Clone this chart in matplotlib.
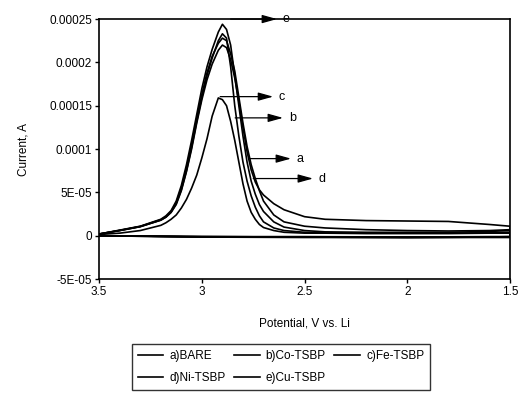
import matplotlib
matplotlib.use("Agg")
import matplotlib.pyplot as plt
from matplotlib.ticker import FixedLocator, FixedFormatter

plt.rcParams['font.family'] = ['Liberation Sans', 'DejaVu Sans']

# potential grid of the anodic (upper) branch, V vs. Li
pot_up = [3.5, 3.4, 3.3, 3.2, 3.175, 3.15, 3.125, 3.1, 3.075, 3.05,
          3.025, 3.0, 2.975, 2.95, 2.92, 2.9, 2.88, 2.86, 2.84, 2.82,
          2.8, 2.78, 2.76, 2.74, 2.72, 2.7, 2.65, 2.6, 2.5, 2.4,
          2.2, 2.0, 1.8, 1.6, 1.5]
# return (lower) branch
pot_down = [1.5, 1.6, 2.0, 2.5, 3.0, 3.5]

# currents, A (rows follow pot_up in groups of ten)
cur_a_up = [2e-6, 6.2e-6, 1.08e-5, 1.85e-5, 2.2e-5, 2.8e-5, 3.8e-5, 5.5e-5, 7.8e-5, 1.05e-4,
            1.35e-4, 1.63e-4, 1.88e-4, 2.07e-4, 2.22e-4, 2.28e-4, 2.25e-4, 2.1e-4, 1.9e-4, 1.6e-4,
            1.3e-4, 1.03e-4, 8.2e-5, 6.6e-5, 5.2e-5, 4e-5, 2.4e-5, 1.6e-5, 1.1e-5, 9e-6,
            7e-6, 6e-6, 5.5e-6, 6e-6, 7e-6]
cur_b_up = [2e-6, 6e-6, 1.05e-5, 1.8e-5, 2.15e-5, 2.7e-5, 3.7e-5, 5.3e-5, 7.5e-5, 1.02e-4,
            1.32e-4, 1.6e-4, 1.85e-4, 2.05e-4, 2.25e-4, 2.33e-4, 2.28e-4, 1.95e-4, 1.5e-4, 1.15e-4,
            8.5e-5, 6.3e-5, 4.6e-5, 3.3e-5, 2.3e-5, 1.6e-5, 9e-6, 6e-6, 4e-6, 3.5e-6,
            3e-6, 3e-6, 3e-6, 3.5e-6, 4e-6]
cur_c_up = [1.5e-6, 3e-6, 6e-6, 1.2e-5, 1.5e-5, 1.9e-5, 2.4e-5, 3.2e-5, 4.2e-5, 5.5e-5,
            7e-5, 9e-5, 1.12e-4, 1.38e-4, 1.59e-4, 1.57e-4, 1.5e-4, 1.32e-4, 1.1e-4, 8.5e-5,
            6e-5, 4e-5, 2.7e-5, 1.9e-5, 1.3e-5, 9.5e-6, 6e-6, 4e-6, 3e-6, 3e-6,
            2.5e-6, 2.5e-6, 2.5e-6, 3e-6, 3e-6]
cur_d_up = [2e-6, 6e-6, 1.05e-5, 1.8e-5, 2.15e-5, 2.7e-5, 3.6e-5, 5.2e-5, 7.4e-5, 1e-4,
            1.3e-4, 1.57e-4, 1.8e-4, 1.98e-4, 2.14e-4, 2.2e-4, 2.17e-4, 2.03e-4, 1.82e-4, 1.55e-4,
            1.25e-4, 9.7e-5, 7.6e-5, 6.2e-5, 5.3e-5, 4.7e-5, 3.7e-5, 3e-5, 2.2e-5, 1.9e-5,
            1.75e-5, 1.7e-5, 1.65e-5, 1.3e-5, 1.1e-5]
cur_e_up = [2e-6, 6.5e-6, 1.1e-5, 1.9e-5, 2.3e-5, 2.9e-5, 4e-5, 5.8e-5, 8.2e-5, 1.1e-4,
            1.4e-4, 1.7e-4, 1.95e-4, 2.15e-4, 2.35e-4, 2.44e-4, 2.38e-4, 2.2e-4, 1.85e-4, 1.5e-4,
            1.15e-4, 8.5e-5, 6.3e-5, 4.8e-5, 3.6e-5, 2.8e-5, 1.6e-5, 1e-5, 6e-6, 4.5e-6,
            4e-6, 4e-6, 4e-6, 5e-6, 6e-6]

cur_a_down = [-1e-6, -1.5e-6, -2e-6, -1.5e-6, -1e-6, 0]
cur_b_down = [-1.5e-6, -1.5e-6, -1.5e-6, -1e-6, -1e-6, 0]
cur_c_down = [-1e-6, -1e-6, -1.5e-6, -1.5e-6, -1e-6, 0]
cur_d_down = [-2e-6, -2e-6, -2e-6, -1.5e-6, -1.5e-6, 0]
cur_e_down = [-1.5e-6, -1.5e-6, -2e-6, -2e-6, -1.5e-6, 0]

labels = ['a)BARE', 'b)Co-TSBP', 'c)Fe-TSBP', 'd)Ni-TSBP', 'e)Cu-TSBP']

yticks = [-5e-5, 0, 5e-5, 1e-4, 1.5e-4, 2e-4, 2.5e-4]
ytick_labels = ['-5E-05', '0', '5E-05', '0.0001', '0.00015', '0.0002', '0.00025']
xticks = [3.5, 3.0, 2.5, 2.0, 1.5]
xtick_labels = ['3.5', '3', '2.5', '2', '1.5']

# arrow callouts: (label, start V, tip V, text V, current)
callouts = [('e', 2.86, 2.634, 2.608, 2.5e-4),
            ('c', 2.911, 2.653, 2.625, 1.605e-4),
            ('b', 2.838, 2.605, 2.577, 1.36e-4),
            ('a', 2.765, 2.566, 2.538, 8.9e-5),
            ('d', 2.75, 2.459, 2.432, 6.6e-5)]

fig = plt.figure(figsize=(5.22, 3.97), dpi=100)
ax = fig.add_axes([0.19, 0.297, 0.787, 0.655])

ups = [cur_a_up, cur_b_up, cur_c_up, cur_d_up, cur_e_up]
downs = [cur_a_down, cur_b_down, cur_c_down, cur_d_down, cur_e_down]
handles = []
for up, down, lab in zip(ups, downs, labels):
    h, = ax.plot(pot_up + pot_down, up + down, color='black', lw=1.2,
                 label=lab)
    handles.append(h)

for lab, x0, x1, xt, y in callouts:
    ax.annotate('', xy=(x1, y), xytext=(x0, y),
                arrowprops=dict(arrowstyle='-|>,head_length=0.9,head_width=0.25',
                                color='black', lw=0.9, shrinkA=0, shrinkB=0))
    ax.text(xt, y, lab, fontsize=9, va='center', ha='left')

ax.set_xlim(3.5, 1.5)
ax.set_ylim(-5e-5, 2.5e-4)
ax.xaxis.set_major_locator(FixedLocator(xticks))
ax.xaxis.set_major_formatter(FixedFormatter(xtick_labels))
ax.yaxis.set_major_locator(FixedLocator(yticks))
ax.yaxis.set_major_formatter(FixedFormatter(ytick_labels))
ax.tick_params(direction='out', length=3, width=1, labelsize=8.5, pad=2)
for s in ax.spines.values():
    s.set_linewidth(1.2)

ax.set_xlabel('Potential, V vs. Li', fontsize=8.5, labelpad=14)
ax.set_ylabel('Current, A', fontsize=8.5, labelpad=14)

# legend rows: a b c / d e
order = [0, 3, 1, 4, 2]
leg = fig.legend([handles[i] for i in order], [labels[i] for i in order],
                 ncol=3, loc='upper center', bbox_to_anchor=(0.538, 0.148),
                 fontsize=8.5, frameon=True, fancybox=False, handlelength=2.2,
                 handletextpad=0.5, columnspacing=0.7, borderpad=0.5,
                 labelspacing=0.85)
leg.get_frame().set_edgecolor('black')
leg.get_frame().set_linewidth(1.0)

fig.savefig('out.png', dpi=100)
